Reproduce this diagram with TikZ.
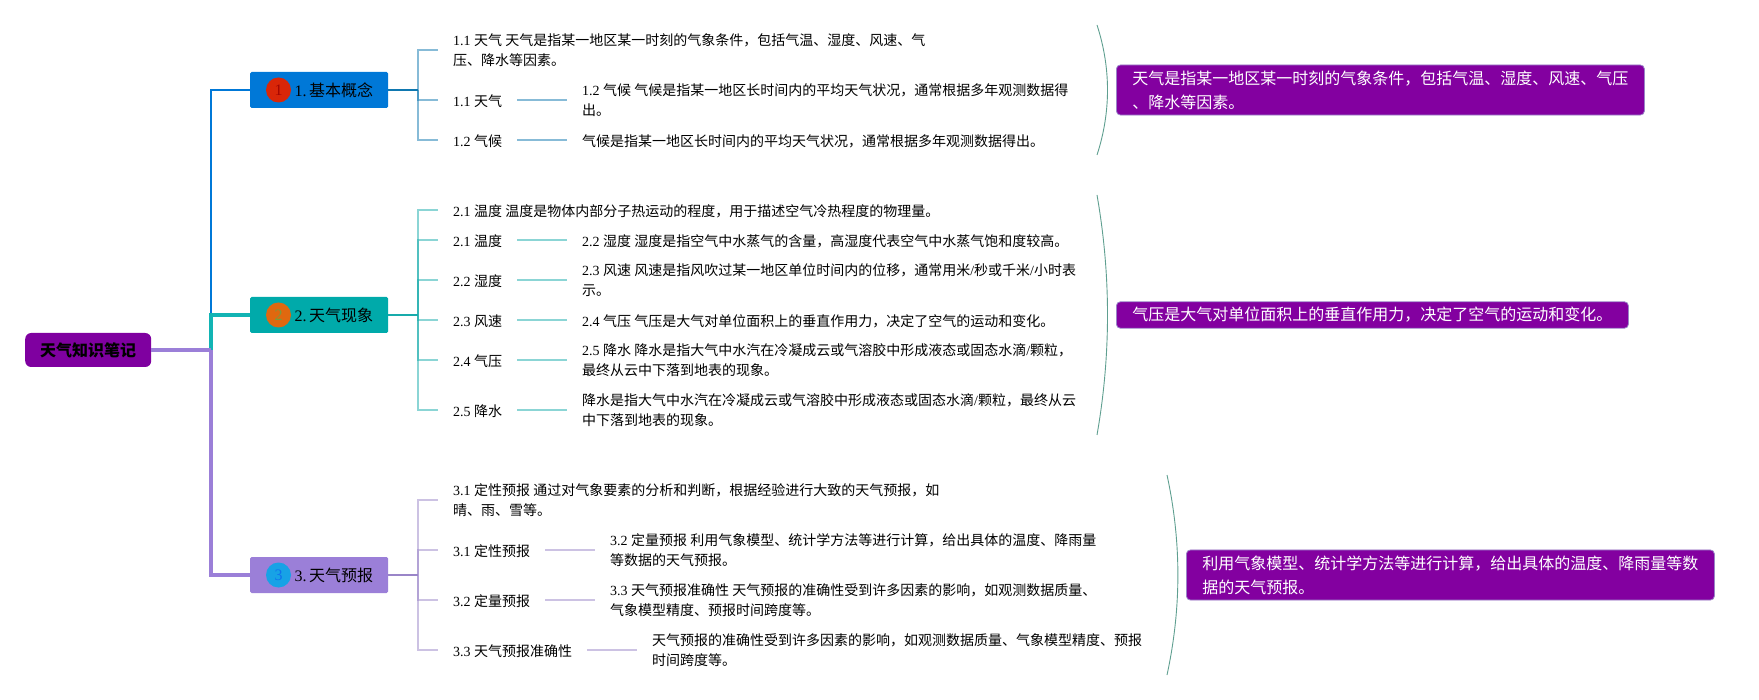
\documentclass[tikz,border=0pt]{standalone}
\usepackage{fontspec}
\setmainfont{Noto Sans CJK SC}
\newfontfamily\latfont{Liberation Serif}
\newcommand{\lat}[1]{{\latfont #1}}

\definecolor{rootpurple}{HTML}{7F00A0}
\definecolor{notepurple}{HTML}{8300A0}
\definecolor{topicblue}{HTML}{0078D7}
\definecolor{topicteal}{HTML}{00AAAA}
\definecolor{topiclilac}{HTML}{9B7FD8}
\definecolor{trunkteal}{HTML}{12B4B4}
\definecolor{linkblue}{HTML}{0F78B0}
\definecolor{linkteal}{HTML}{18ABAB}
\definecolor{linklilac}{HTML}{9A85C8}
\definecolor{bracegreen}{HTML}{5F9F90}
\definecolor{dotred}{HTML}{D92608}
\definecolor{dotorange}{HTML}{E0680F}
\definecolor{dotblue}{HTML}{17A2E6}

\tikzset{
  topicbox/.style={anchor=west, rounded corners=1.5pt, minimum height=36pt, inner xsep=15pt, inner ysep=0pt, text width=108pt, align=right, font=\fontsize{16}{20}\selectfont},
  numdot/.style={circle, inner sep=0pt, minimum size=25pt, font=\fontsize{16}{20}\selectfont},
  leaf/.style={anchor=west, inner xsep=15pt, inner ysep=0pt, align=left, font=\fontsize{14}{20.5}\selectfont, execute at begin node={\rule{0pt}{14.5pt}}},
  notebox/.style={anchor=west, fill=notepurple, draw=linklilac, line width=0.8pt, rounded corners=4pt, inner xsep=16pt, inner ysep=5.6pt, align=left, text=white, font=\fontsize{16}{24}\selectfont},
  twig/.style={line width=1.8pt, draw opacity=0.5},
  brace/.style={draw=bracegreen, line width=0.9pt}
}

\begin{document}
\begin{tikzpicture}[x=1pt,y=-1pt]
\useasboundingbox (0,0) rectangle (1759,700);

\node [anchor=west, fill=rootpurple, rounded corners=6pt, minimum width=126pt, minimum height=34pt, inner sep=0pt, font=\fontsize{16}{20}\selectfont\bfseries] (root) at (25,350) {天气知识笔记};
\coordinate (trunk) at (211,350);

\node [topicbox, fill=topicblue] (topica) at (250,90) {\lat{1.\kern2.5pt}基本概念};
\node [topicbox, fill=topicteal] (topicb) at (250,315) {\lat{2.\kern2.5pt}天气现象};
\node [topicbox, fill=topiclilac] (topicc) at (250,575) {\lat{3.\kern2.5pt}天气预报};
\node [numdot, fill=dotred, text=red!60!black!85!dotred] (dota) at (278.5,90) {\lat{1}};
\node [numdot, fill=dotorange, text=gray!60!green!70!dotorange] (dotb) at (278.5,315) {\lat{2}};
\node [numdot, fill=dotblue, text=blue!30!dotblue] (dotc) at (278.5,575) {\lat{3}};

\draw [topicblue, line width=2pt] (trunk) |- (topica.west);
\draw [trunkteal, line width=4.8pt] (trunk) |- (topicb.west);
\draw [topiclilac, line width=4.5pt] (trunk) |- (topicc.west);
\draw [topiclilac, line width=4.5pt] (root.east) -- (trunk);

% first group
\coordinate (huba) at (418,90);
\node [leaf] (a1) at (438,50) {\lat{1.1 }天气 天气是指某一地区某一时刻的气象条件，包括气温、湿度、风速、气\\压、降水等因素。};
\node [leaf] (a2) at (438,100) {\lat{1.1 }天气};
\node [leaf] (a3) at (438,140) {\lat{1.2 }气候};
\node [leaf] (a2x) at (567,100) {\lat{1.2 }气候 气候是指某一地区长时间内的平均天气状况，通常根据多年观测数据得\\出。};
\node [leaf] (a3x) at (567,140) {气候是指某一地区长时间内的平均天气状况，通常根据多年观测数据得出。};
\draw [linkblue, line width=2pt] (topica.east) -- (huba);
\draw [twig, linkblue] (huba) |- (a1.west);
\draw [twig, linkblue] (huba) |- (a2.west);
\draw [twig, linkblue] (huba) |- (a3.west);
\draw [twig, linkblue] (a2.east) -- (a2x.west);
\draw [twig, linkblue] (a3.east) -- (a3x.west);

% second group
\coordinate (hubb) at (418,315);
\node [leaf] (b1) at (438,210) {\lat{2.1 }温度 温度是物体内部分子热运动的程度，用于描述空气冷热程度的物理量。};
\node [leaf] (b2) at (438,240) {\lat{2.1 }温度};
\node [leaf] (b3) at (438,280) {\lat{2.2 }湿度};
\node [leaf] (b4) at (438,320) {\lat{2.3 }风速};
\node [leaf] (b5) at (438,360) {\lat{2.4 }气压};
\node [leaf] (b6) at (438,410) {\lat{2.5 }降水};
\node [leaf] (b2x) at (567,240) {\lat{2.2 }湿度 湿度是指空气中水蒸气的含量，高湿度代表空气中水蒸气饱和度较高。};
\node [leaf] (b3x) at (567,280) {\lat{2.3 }风速 风速是指风吹过某一地区单位时间内的位移，通常用米\lat{/}秒或千米\lat{/}小时表\\示。};
\node [leaf] (b4x) at (567,320) {\lat{2.4 }气压 气压是大气对单位面积上的垂直作用力，决定了空气的运动和变化。};
\node [leaf] (b5x) at (567,360) {\lat{2.5 }降水 降水是指大气中水汽在冷凝成云或气溶胶中形成液态或固态水滴\lat{/}颗粒，\\最终从云中下落到地表的现象。};
\node [leaf] (b6x) at (567,410) {降水是指大气中水汽在冷凝成云或气溶胶中形成液态或固态水滴\lat{/}颗粒，最终从云\\中下落到地表的现象。};
\draw [linkteal, line width=2pt] (topicb.east) -- (hubb);
\foreach \n in {b1,b2,b3,b4,b5,b6} \draw [twig, linkteal] (hubb) |- (\n.west);
\foreach \n in {b2,b3,b4,b5,b6} \draw [twig, linkteal] (\n.east) -- (\n x.west);

% third group
\coordinate (hubc) at (418,575);
\node [leaf] (c1) at (438,500) {\lat{3.1 }定性预报 通过对气象要素的分析和判断，根据经验进行大致的天气预报，如\\晴、雨、雪等。};
\node [leaf] (c2) at (438,550) {\lat{3.1 }定性预报};
\node [leaf] (c3) at (438,600) {\lat{3.2 }定量预报};
\node [leaf] (c4) at (438,650) {\lat{3.3 }天气预报准确性};
\node [leaf] (c2x) at (595,550) {\lat{3.2 }定量预报 利用气象模型、统计学方法等进行计算，给出具体的温度、降雨量\\等数据的天气预报。};
\node [leaf] (c3x) at (595,600) {\lat{3.3 }天气预报准确性 天气预报的准确性受到许多因素的影响，如观测数据质量、\\气象模型精度、预报时间跨度等。};
\node [leaf] (c4x) at (637,650) {天气预报的准确性受到许多因素的影响，如观测数据质量、气象模型精度、预报\\时间跨度等。};
\draw [linklilac, line width=2pt] (topicc.east) -- (hubc);
\foreach \n in {c1,c2,c3,c4} \draw [twig, linklilac] (hubc) |- (\n.west);
\foreach \n in {c2,c3,c4} \draw [twig, linklilac] (\n.east) -- (\n x.west);

% summaries on the right
\draw [brace] (1097,25) .. controls (1111,68) and (1111,112) .. (1097,155);
\draw [brace] (1097,195) .. controls (1111,275) and (1111,355) .. (1097,435);
\draw [brace] (1167,475) .. controls (1181.5,542) and (1181.5,608) .. (1167,675);
\node [notebox] (notea) at (1116,90) {天气是指某一地区某一时刻的气象条件，包括气温、湿度、风速、气压\\、降水等因素。};
\node [notebox] (noteb) at (1116,315) {气压是大气对单位面积上的垂直作用力，决定了空气的运动和变化。};
\node [notebox] (notec) at (1186,575) {利用气象模型、统计学方法等进行计算，给出具体的温度、降雨量等数\\据的天气预报。};

\end{tikzpicture}
\end{document}
